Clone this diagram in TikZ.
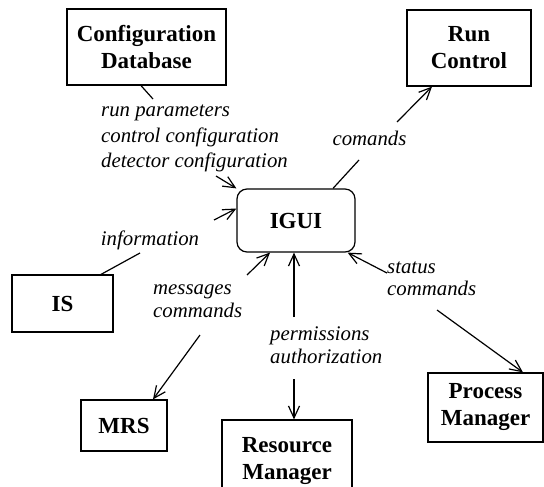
\documentclass[tikz,border=0pt]{standalone}
\usepackage{fontspec}
\setmainfont{Liberation Serif}
\usetikzlibrary{arrows.meta}
\begin{document}
\begin{tikzpicture}[x=1pt,y=-1pt,
  box/.style={draw, line width=1.2pt, align=center, inner sep=0pt,
    font=\bfseries\fontsize{23}{27}\selectfont},
  lbl/.style={font=\itshape\fontsize{20.8}{22.5}\selectfont, align=left,
    inner sep=0pt, anchor=west},
  flow/.style={line width=1.2pt},
  tip/.style={-{Straight Barb[length=12pt,width=11pt]}}
]
\useasboundingbox (0,0) rectangle (544,487);

% components
\node[box, minimum width=159pt, minimum height=76pt] (cdb) at (146.5,47) {Configuration\\Database};
\node[box, minimum width=124pt, minimum height=76pt] (rc) at (469,48) {Run\\Control};
\node[box, rounded corners=10pt, minimum width=118pt, minimum height=63pt] (igui) at (296,220.5) {IGUI};
\node[box, minimum width=101pt, minimum height=57pt] (is) at (62.5,303.5) {IS};
\node[box, minimum width=86pt, minimum height=51pt] (mrs) at (124,425.5) {MRS};
\node[box, minimum width=130pt, minimum height=82pt] (resm) at (287,461) {Resource\\Manager};
\node[box, minimum width=115pt, minimum height=69pt] (pm) at (485.5,407.5) {Process\\Manager};

% flow labels
\node[lbl] (lparams) at (101,138.5) {run parameters\\[3pt]control configuration\\[3pt]detector configuration};
\node[lbl, anchor=center] (lcmd) at (369.5,138) {comands};
\node[lbl, anchor=center] (linfo) at (150,240) {information};
\node[lbl] (lmsg) at (153,301) {messages\\commands};
\node[lbl] (lperm) at (270,345) {permissions\\authorization};
\node[lbl] (lstat) at (387,279) {status\\commands};

% break points where the connectors pass their labels
\coordinate (cdbA) at (153,99);
\coordinate (cdbB) at (216,176);
\coordinate (rcA) at (359,160);
\coordinate (rcB) at (397,122);
\coordinate (isA) at (140,253);
\coordinate (isB) at (214,220);
\coordinate (mrsA) at (247,275);
\coordinate (mrsB) at (200,335);
\coordinate (rmA) at (294,317);
\coordinate (rmB) at (294,379);
\coordinate (pmA) at (387,273);
\coordinate (pmB) at (437,310);

% Configuration Database -> IGUI
\draw[flow] ([xshift=-5.5pt]cdb.south) -- (cdbA);
\draw[flow,tip] (cdbB) -- (igui.north west);
% IGUI -> Run Control
\draw[flow] ([xshift=37pt]igui.north) -- (rcA);
\draw[flow,tip] (rcB) -- ([xshift=-37pt]rc.south);
% IS -> IGUI
\draw[flow] ([xshift=38.5pt]is.north) -- (isA);
\draw[flow,tip] (isB) -- ([yshift=12pt]igui.west);
% IGUI <-> MRS
\draw[flow,tip] (mrsA) -- ([xshift=-26pt]igui.south);
\draw[flow,tip] (mrsB) -- ([xshift=29pt]mrs.north);
% IGUI <-> Resource Manager
\draw[flow,tip] (rmA) -- ([xshift=-2pt]igui.south);
\draw[flow,tip] (rmB) -- (rmB |- resm.north);
% IGUI <-> Process Manager
\draw[flow,tip] (pmA) -- ([xshift=-8pt]igui.south east);
\draw[flow,tip] (pmB) -- ([xshift=37.5pt]pm.north);
\end{tikzpicture}
\end{document}
